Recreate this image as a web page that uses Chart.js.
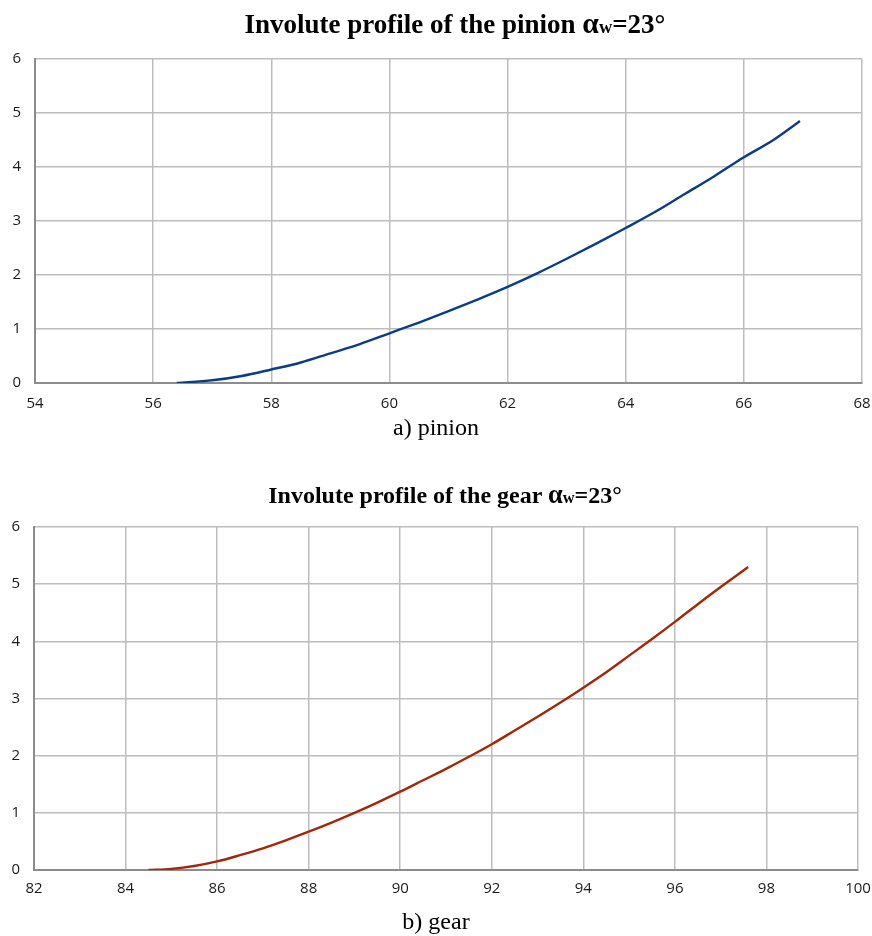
<!DOCTYPE html>
<html>
<head>
<meta charset="utf-8">
<script src="https://cdn.jsdelivr.net/npm/chart.js@4"></script>
<style>
  body { margin: 0; background: #fff; }
  #page { position: relative; width: 872px; height: 936px; }
  .box { position: absolute; left: 0; width: 872px; }
  .title, .caption {
    position: absolute; left: 0; width: 872px; text-align: center;
    font-family: "Liberation Serif", "Times New Roman", serif; color: #000;
    line-height: 1.15;
  }
  .title { font-weight: bold; }
  .caption { font-size: 24px; }
  .aw small { font-size: 0.62em; }
  .aw { font-size: 1.1em; }
</style>
</head>
<body>
<div id="page">
  <div class="box" style="top:0; height:430px"><canvas id="pinionChart"></canvas></div>
  <div class="title" style="top:6px; left:19px; font-size:27px">Involute profile of the pinion <span class="aw">α<small>w</small></span>=23°</div>
  <div class="caption" style="top:414px">a) pinion</div>

  <div class="box" style="top:440px; height:496px"><canvas id="gearChart"></canvas></div>
  <div class="title" style="top:479px; left:9px; font-size:24px">Involute profile of the gear <span class="aw">α<small>w</small></span>=23°</div>
  <div class="caption" style="top:908px">b) gear</div>
</div>
<script>
// values
var pinionX = [56.4, 57, 57.5, 58, 58.5, 59, 59.5, 60, 60.5, 61, 61.5, 62, 62.5, 63, 63.5, 64, 64.5, 65, 65.5, 66, 66.5, 66.95];
var pinionY = [0, 0.05, 0.13, 0.25, 0.38, 0.55, 0.72, 0.92, 1.12, 1.33, 1.55, 1.78, 2.03, 2.3, 2.58, 2.87, 3.17, 3.5, 3.83, 4.18, 4.5, 4.85];

var gearX = [84.5, 85, 85.5, 86, 86.5, 87, 87.5, 88, 88.5, 89, 89.5, 90, 90.5, 91, 91.5, 92, 92.5, 93, 93.5, 94, 94.5, 95, 95.5, 96, 96.5, 97, 97.6];
var gearY = [0, 0.02, 0.07, 0.15, 0.26, 0.38, 0.52, 0.67, 0.83, 1.0, 1.18, 1.37, 1.57, 1.77, 1.98, 2.2, 2.44, 2.68, 2.93, 3.19, 3.46, 3.75, 4.04, 4.34, 4.65, 4.95, 5.3];

var yTicks = [0, 1, 2, 3, 4, 5, 6];

function toPoints(xs, ys) {
    return xs.map(function (x, i) { return { x: x, y: ys[i] }; });
}

function makeProfileChart(canvas_id, xs, ys, color, xMin, xMax, pad, xAxisHeight, yAxisWidth, xPad) {
    const canvas = document.getElementById(canvas_id);
    const tickFont = { family: "'Open Sans', 'DejaVu Sans', sans-serif", size: 15 };
    return new Chart(canvas.getContext('2d'), {
        type: "scatter",
        data: {
            datasets: [{
                data: toPoints(xs, ys),
                showLine: true,
                borderColor: color,
                borderWidth: 2.4,
                pointRadius: 0,
                cubicInterpolationMode: "monotone",
                fill: false
            }]
        },
        options: {
            responsive: true,
            maintainAspectRatio: false,
            animation: false,
            layout: { padding: pad },
            plugins: { legend: { display: false }, tooltip: { enabled: false } },
            scales: {
                x: {
                    type: "linear",
                    min: xMin, max: xMax,
                    ticks: { stepSize: 2, color: "#1a1a1a", font: tickFont, padding: xPad },
                    grid: { color: "#bdbdbd", lineWidth: 1.5, drawTicks: false },
                    border: { color: "#8c8c8c", width: 2 },
                    afterFit: function (scale) {
                        scale.height = xAxisHeight;
                        scale.paddingLeft = 0;
                        scale.paddingRight = 0;
                    }
                },
                y: {
                    min: 0, max: 6,
                    afterBuildTicks: function (scale) { scale.ticks = yTicks.map(function (v) { return { value: v }; }); },
                    ticks: { color: "#1a1a1a", font: tickFont, padding: 14 },
                    grid: { color: "#bdbdbd", lineWidth: 1.5, drawTicks: false },
                    border: { color: "#8c8c8c", width: 2 },
                    afterFit: function (scale) {
                        scale.width = yAxisWidth;
                        scale.paddingTop = 0;
                        scale.paddingBottom = 0;
                    }
                }
            }
        }
    });
}

makeProfileChart("pinionChart", pinionX, pinionY, "#0d3c87", 54, 68,
    { top: 59, right: 10, bottom: 0, left: 0 }, 47, 35, 12);
makeProfileChart("gearChart", gearX, gearY, "#a32708", 82, 100,
    { top: 87, right: 14, bottom: 0, left: 0 }, 66, 34, 10);
</script>
</body>
</html>
